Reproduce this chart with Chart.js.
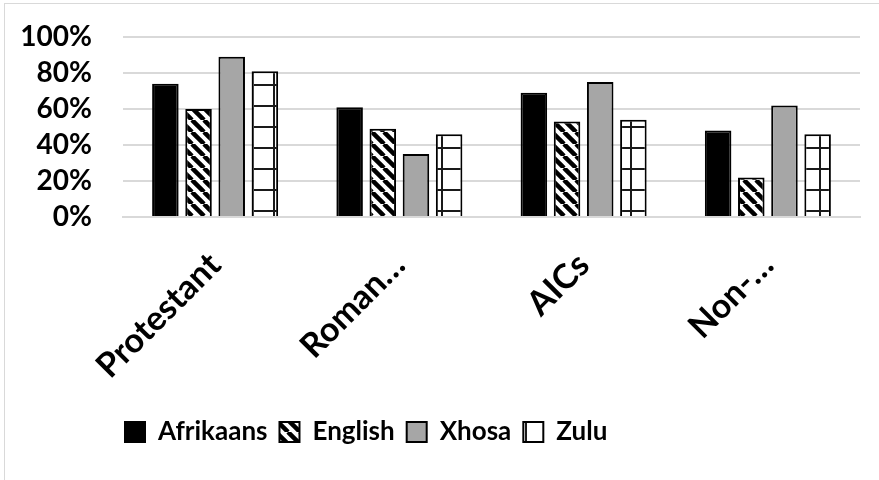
<!DOCTYPE html>
<html>
<head>
<meta charset="utf-8">
<script src="https://cdn.jsdelivr.net/npm/chart.js@4.4.0/dist/chart.umd.min.js"></script>
<style>
  html, body { margin: 0; padding: 0; background: #fff; }
  #wrap { position: relative; width: 879px; height: 480px; }
  #frame { position: absolute; left: 4px; top: 3px; right: -10px; bottom: -10px;
           border-left: 1px solid #d9d9d9; border-top: 1px solid #d9d9d9; }
</style>
</head>
<body>
<div id="wrap">
  <div id="frame"></div>
  <canvas id="chart" width="879" height="480"></canvas>
</div>
<script>
// values (percent)
const categories = ['Protestant', 'Roman\u2026', 'AICs', 'Non-\u2026'];
const afrikaans = [74, 61, 69, 48];
const english   = [60, 49, 53, 22];
const xhosa     = [89, 35, 75, 62];
const zulu      = [81, 46, 54, 46];
const yTicks    = [0, 20, 40, 60, 80, 100];

const FONT = 'Lato, "Open Sans", sans-serif';

function stripePattern() {
    const s = 12;
    const c = document.createElement('canvas');
    c.width = s; c.height = s;
    const g = c.getContext('2d');
    g.fillStyle = '#fff';
    g.fillRect(0, 0, s, s);
    g.strokeStyle = '#000';
    g.lineWidth = 4.5;
    [-s, 0, s].forEach(o => {
        g.beginPath();
        g.moveTo(o, 0);
        g.lineTo(o + s, s);
        g.stroke();
    });
    return g.createPattern(c, 'repeat');
}

function gridPattern() {
    const s = 21;
    const c = document.createElement('canvas');
    c.width = s; c.height = s;
    const g = c.getContext('2d');
    g.fillStyle = '#fff';
    g.fillRect(0, 0, s, s);
    g.fillStyle = '#1a1a1a';
    g.fillRect(0, 0, s, 2);
    g.fillRect(0, 0, 2, s);
    return g.createPattern(c, 'repeat');
}

// move the legend to where the original has it
const legendPlace = {
    id: 'legendPlace',
    afterLayout(chart) {
        const lg = chart.legend;
        const pad = lg.options.labels.padding;
        lg.left = 125 - pad;
        lg.top = 434 - pad - 15;
    }
};

const ctx = document.getElementById('chart').getContext('2d');
const chart = new Chart(ctx, {
    type: 'bar',
    data: {
        labels: categories,
        datasets: [
            { label: 'Afrikaans', data: afrikaans, backgroundColor: '#000', borderColor: '#000', borderWidth: 2 },
            { label: 'English', data: english, backgroundColor: stripePattern(), borderColor: '#000', borderWidth: 2 },
            { label: 'Xhosa', data: xhosa, backgroundColor: '#a6a6a6', borderColor: '#000', borderWidth: 2 },
            { label: 'Zulu', data: zulu, backgroundColor: gridPattern(), borderColor: '#000', borderWidth: 2 }
        ]
    },
    plugins: [legendPlace],
    options: {
        responsive: false,
        animation: false,
        datasets: { bar: { categoryPercentage: 0.72, barPercentage: 0.8 } },
        layout: { padding: { left: 22, right: 19, top: 37, bottom: 0 } },
        plugins: {
            legend: {
                position: 'bottom',
                align: 'start',
                labels: {
                    color: '#000',
                    font: { family: FONT, size: 26, weight: 'bold' },
                    boxWidth: 20,
                    boxHeight: 20,
                    padding: 12
                }
            },
            tooltip: { enabled: false }
        },
        scales: {
            x: {
                grid: { display: false, drawTicks: false },
                border: { display: true, color: '#d9d9d9', width: 2 },
                ticks: {
                    color: '#000',
                    font: { family: FONT, size: 34, weight: 'bold' },
                    minRotation: 45,
                    maxRotation: 45,
                    padding: 28
                },
                afterFit: axis => {
                    axis.paddingLeft = 0;
                    axis.paddingRight = 0;
                    axis.height = 215;
                }
            },
            y: {
                min: 0,
                max: 100,
                afterBuildTicks: axis => { axis.ticks = yTicks.map(v => ({ value: v })); },
                afterFit: axis => {
                    axis.paddingTop = 0;
                    axis.paddingBottom = 0;
                    axis.width = 101;
                },
                grid: { color: '#d9d9d9', lineWidth: 2, drawTicks: false },
                border: { display: false },
                ticks: {
                    color: '#000',
                    font: { family: FONT, size: 28, weight: 'bold' },
                    padding: 31,
                    autoSkip: false,
                    callback: v => v + '%'
                }
            }
        }
    }
});
</script>
</body>
</html>
